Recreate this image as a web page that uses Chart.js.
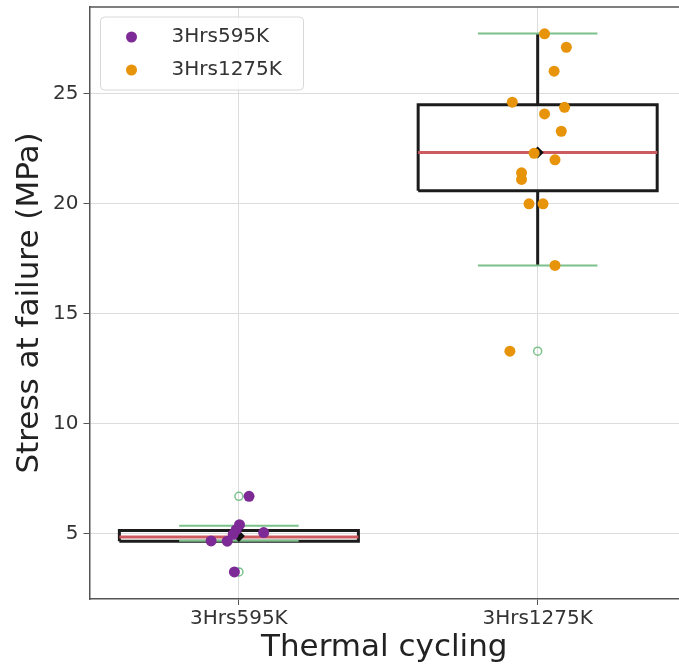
<!DOCTYPE html>
<html>
<head>
<meta charset="utf-8">
<script src="https://cdn.jsdelivr.net/npm/chart.js@4.4.0/dist/chart.umd.min.js"></script>
<style>
html, body { margin: 0; padding: 0; background: #fff; overflow: hidden; }
canvas { display: block; }
</style>
</head>
<body>
<!-- a few px wider than the window: the plot runs past the right edge as in the original -->
<canvas id="myChart" width="685" height="667"></canvas>
<script>
var groups = ["3Hrs595K", "3Hrs1275K"];
var yTicks = [5, 10, 15, 20, 25];

// measured points (stress in MPa) and their horizontal jitter around the group position
var stress595 = [6.70, 5.41, 5.18, 4.97, 5.05, 4.66, 4.67, 3.26];
var jitter595 = [0.034, 0.002, -0.009, -0.019, 0.083, -0.039, -0.093, -0.015];
var stress1275 = [27.73, 27.12, 26.03, 24.62, 24.39, 24.09, 23.30, 22.30, 22.00, 21.41, 21.11, 20.00, 20.00, 17.20, 13.30];
var jitter1275 = [0.023, 0.096, 0.055, -0.085, 0.090, 0.023, 0.079, -0.012, 0.058, -0.054, -0.054, -0.029, 0.018, 0.058, -0.093];

// box statistics per group
var q1 = [4.66, 20.60];
var medians = [4.85, 22.33];
var q3 = [5.15, 24.51];
var whiskerLow = [4.68, 17.20];
var whiskerHigh = [5.36, 27.74];
var means = [4.90, 22.33];
var outliers = [[6.70, 3.26], [13.30]];

var purple = "#7e2a96";
var orange = "#e8940a";
var boxColor = "#1c1c1c";
var medianColor = "#cd5a5e";
var capColor = "#7cc18c";

var boxHalf = 0.4;
var capHalf = 0.2;

function pts(values, jit, pos) {
    return values.map(function(v, i) { return { x: pos + jit[i], y: v }; });
}

function lineSet(data, color, width) {
    return { data: data, showLine: true, fill: false, borderColor: color, borderWidth: width,
             pointRadius: 0, backgroundColor: color, isLegend: false };
}

var datasets = [
    { label: groups[0], data: pts(stress595, jitter595, 0), backgroundColor: purple,
      borderWidth: 0, pointRadius: 5.5, isLegend: true },
    { label: groups[1], data: pts(stress1275, jitter1275, 1), backgroundColor: orange,
      borderWidth: 0, pointRadius: 5.5, isLegend: true },
    { data: means.map(function(m, i) { return { x: i, y: m }; }), pointStyle: "rectRot",
      pointRadius: 6, backgroundColor: "#111", borderColor: "#111", borderWidth: 0, isLegend: false }
];

var outData = [];
outliers.forEach(function(list, i) {
    list.forEach(function(v) { outData.push({ x: i, y: v }); });
});
datasets.push({ data: outData, pointRadius: 4, backgroundColor: "rgba(255,255,255,0)",
                borderColor: capColor, borderWidth: 1.5, isLegend: false });

groups.forEach(function(g, i) {
    datasets.push(lineSet([{ x: i - boxHalf, y: medians[i] }, { x: i + boxHalf, y: medians[i] }], medianColor, 3));
    datasets.push(lineSet([{ x: i - capHalf, y: whiskerHigh[i] }, { x: i + capHalf, y: whiskerHigh[i] }], capColor, 2));
    datasets.push(lineSet([{ x: i - capHalf, y: whiskerLow[i] }, { x: i + capHalf, y: whiskerLow[i] }], capColor, 2));
    datasets.push(lineSet([{ x: i, y: q3[i] }, { x: i, y: whiskerHigh[i] }], boxColor, 3));
    datasets.push(lineSet([{ x: i, y: q1[i] }, { x: i, y: whiskerLow[i] }], boxColor, 3));
    datasets.push(lineSet([
        { x: i - boxHalf, y: q1[i] }, { x: i + boxHalf, y: q1[i] },
        { x: i + boxHalf, y: q3[i] }, { x: i - boxHalf, y: q3[i] },
        { x: i - boxHalf, y: q1[i] }
    ], boxColor, 3));
});

// top spine and the framed legend
var framePlugin = {
    id: "frame",
    afterDraw: function(chart) {
        var ctx = chart.ctx;
        var a = chart.chartArea;
        ctx.save();
        ctx.strokeStyle = "#555";
        ctx.lineWidth = 1.5;
        ctx.beginPath();
        ctx.moveTo(a.left, a.top);
        ctx.lineTo(a.right, a.top);
        ctx.stroke();

        var bx = a.left + 11, by = a.top + 10, bw = 203, bh = 73;
        ctx.beginPath();
        ctx.roundRect(bx, by, bw, bh, 4);
        ctx.fillStyle = "rgba(255,255,255,0.85)";
        ctx.fill();
        ctx.strokeStyle = "#d8d8d8";
        ctx.lineWidth = 1;
        ctx.stroke();

        var items = chart.data.datasets.filter(function(d) { return d.isLegend; });
        ctx.font = "20px 'DejaVu Sans'";
        ctx.textBaseline = "middle";
        items.forEach(function(d, k) {
            var cy = by + 20 + k * 33;
            ctx.beginPath();
            ctx.arc(bx + 31, cy, 5.5, 0, Math.PI * 2);
            ctx.fillStyle = d.backgroundColor;
            ctx.fill();
            ctx.fillStyle = "#333";
            ctx.fillText(d.label, bx + 71, cy);
        });
        ctx.restore();
    }
};

function noPad(scale) {
    scale.paddingTop = 0;
    scale.paddingBottom = 0;
    scale.paddingLeft = 0;
    scale.paddingRight = 0;
}

new Chart("myChart", {
    type: "scatter",
    data: { datasets: datasets },
    options: {
        responsive: false,
        animation: false,
        events: [],
        layout: { padding: { top: 7, right: 0, left: 0, bottom: 0 } },
        plugins: {
            legend: { display: false },
            tooltip: { enabled: false }
        },
        scales: {
            x: {
                type: "linear",
                min: -0.5,
                max: 1.473,
                afterBuildTicks: function(scale) {
                    scale.ticks = groups.map(function(g, i) { return { value: i }; });
                },
                afterFit: function(scale) { scale.height = 68; noPad(scale); },
                ticks: {
                    callback: function(v) { return groups[v]; },
                    font: { family: "DejaVu Sans", size: 20 },
                    color: "#333",
                    padding: 2,
                    maxRotation: 0
                },
                grid: { color: "#dcdcdc", tickColor: "#555", tickLength: 6 },
                border: { color: "#555", width: 1.5 },
                title: {
                    display: true,
                    text: "Thermal cycling",
                    font: { family: "DejaVu Sans", size: 31 },
                    color: "#222",
                    padding: { top: 0, bottom: 0 }
                }
            },
            y: {
                min: 2.03,
                max: 28.95,
                afterBuildTicks: function(scale) {
                    scale.ticks = yTicks.map(function(v) { return { value: v }; });
                },
                afterFit: function(scale) { scale.width = 89.5; noPad(scale); },
                ticks: {
                    font: { family: "DejaVu Sans", size: 20 },
                    color: "#333",
                    padding: 5
                },
                grid: { color: "#dcdcdc", tickColor: "#555", tickLength: 6 },
                border: { color: "#555", width: 1.5 },
                title: {
                    display: true,
                    text: "Stress at failure (MPa)",
                    font: { family: "DejaVu Sans", size: 31 },
                    color: "#222",
                    padding: { top: 11, bottom: 0 }
                }
            }
        }
    },
    plugins: [framePlugin]
});
</script>
</body>
</html>
